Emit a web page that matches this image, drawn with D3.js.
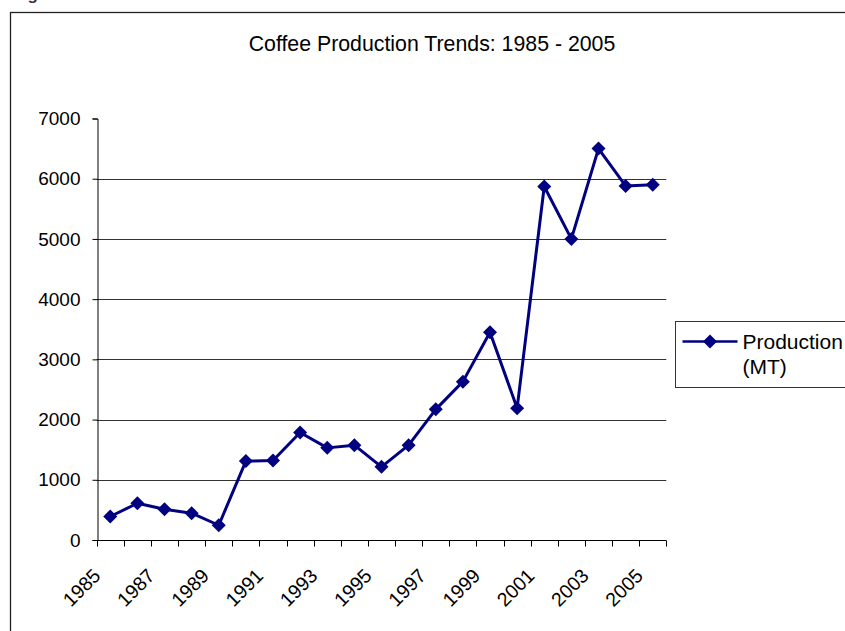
<!DOCTYPE html>
<html>
<head>
<meta charset="utf-8">
<script src="https://cdn.jsdelivr.net/npm/d3@7"></script>
<style>
  html, body { margin: 0; padding: 0; background: #fff; }
  svg { display: block; font-family: "Liberation Sans", Arial, sans-serif; }
</style>
</head>
<body>
<svg id="chart" width="845" height="631"></svg>
<script>
// Coffee production, metric tonnes, 1985 - 2005
const years = [1985, 1986, 1987, 1988, 1989, 1990, 1991, 1992, 1993, 1994, 1995,
               1996, 1997, 1998, 1999, 2000, 2001, 2002, 2003, 2004, 2005];
const production = [390, 610, 510, 445, 245, 1310, 1320, 1785, 1530, 1575, 1215,
                    1575, 2170, 2630, 3450, 2190, 5870, 5000, 6500, 5880, 5900];
const yTicks = [0, 1000, 2000, 3000, 4000, 5000, 6000, 7000];
const xTickLabels = [1985, 1987, 1989, 1991, 1993, 1995, 1997, 1999, 2001, 2003, 2005];
const seriesName = ["Production", "(MT)"];
const chartTitle = "Coffee Production Trends: 1985 - 2005";

const navy = "#000080";
const svg = d3.select("#chart");

// Plot frame
const plot = { left: 96.7, right: 666.3, top: 118.5, bottom: 540 };

const x = d3.scaleBand().domain(years).range([plot.left, plot.right]).padding(0);
const y = d3.scaleLinear().domain([0, 7000]).range([plot.bottom, plot.top]);

// Outer chart border (runs off the page on the right and bottom)
svg.append("rect")
  .attr("x", 10.5).attr("y", 12.5)
  .attr("width", 900).attr("height", 700)
  .attr("fill", "none").attr("stroke", "#222").attr("stroke-width", 1.3);

// Caption line above the chart frame; only its descender falls on the page
svg.append("text")
  .attr("x", 12.5).attr("y", -0.5)
  .attr("font-size", 17).attr("font-weight", "bold")
  .attr("fill", "#333")
  .text("Figure");

// Title
svg.append("text")
  .attr("x", 432).attr("y", 50.5)
  .attr("text-anchor", "middle")
  .attr("font-size", 21.3)
  .attr("fill", "#000")
  .text(chartTitle);

// Horizontal gridlines
svg.append("g")
  .selectAll("line")
  .data(yTicks.filter(d => d > 0 && d < 7000))
  .join("line")
  .attr("x1", plot.left).attr("x2", plot.right)
  .attr("y1", d => Math.round(y(d)) + 0.5).attr("y2", d => Math.round(y(d)) + 0.5)
  .attr("stroke", "#333").attr("stroke-width", 1);

// Y axis
const yAxis = d3.axisLeft(y).tickValues(yTicks).tickSize(5).tickPadding(12)
  .tickFormat(d3.format("d"));
const gy = svg.append("g")
  .attr("transform", `translate(${Math.round(plot.left) + 0.5},0)`)
  .call(yAxis);
gy.select(".domain").attr("stroke", "#000").attr("stroke-width", 1);
gy.selectAll(".tick line").attr("stroke", "#000");
gy.selectAll(".tick text")
  .attr("font-size", 19)
  .attr("font-family", "'Liberation Sans', Arial, sans-serif")
  .attr("fill", "#000");

// X axis: ticks on category boundaries, labels on alternate years
const gx = svg.append("g")
  .attr("transform", `translate(0,${plot.bottom + 0.5})`);
gx.append("line")
  .attr("x1", plot.left).attr("x2", plot.right)
  .attr("stroke", "#000");
const boundaries = years.map(d => x(d)).concat([x(years[years.length - 1]) + x.bandwidth()]);
gx.selectAll("line.tick")
  .data(boundaries)
  .join("line")
  .attr("class", "tick")
  .attr("x1", d => Math.round(d) + 0.5).attr("x2", d => Math.round(d) + 0.5)
  .attr("y1", 0).attr("y2", 6)
  .attr("stroke", "#000");
gx.selectAll("text")
  .data(xTickLabels)
  .join("text")
  .attr("transform", d => `translate(${x(d) + x.bandwidth() / 2 - 8.5},${36.5}) rotate(-45)`)
  .attr("text-anchor", "end")
  .attr("font-size", 19.5)
  .attr("fill", "#000")
  .text(d => d);

// Series line
const cx = d => x(d) + x.bandwidth() / 2;
const line = d3.line()
  .x((d, i) => cx(years[i]))
  .y(d => y(d));
svg.append("path")
  .datum(production)
  .attr("d", line)
  .attr("fill", "none")
  .attr("stroke", navy)
  .attr("stroke-width", 3)
  .attr("stroke-linejoin", "round");

// Diamond markers
const diamond = (px, py, r) => `M${px},${py - r}L${px + r},${py}L${px},${py + r}L${px - r},${py}Z`;
svg.append("g")
  .selectAll("path")
  .data(production)
  .join("path")
  .attr("d", (d, i) => diamond(cx(years[i]), y(d), 7))
  .attr("fill", navy);

// Legend
const lg = svg.append("g");
lg.append("rect")
  .attr("x", 675.5).attr("y", 321.5)
  .attr("width", 200).attr("height", 66)
  .attr("fill", "#fff").attr("stroke", "#333").attr("stroke-width", 1);
lg.append("line")
  .attr("x1", 682.5).attr("x2", 737.5)
  .attr("y1", 341.5).attr("y2", 341.5)
  .attr("stroke", navy).attr("stroke-width", 2.5);
lg.append("path")
  .attr("d", diamond(710, 341.5, 7))
  .attr("fill", navy);
lg.append("text")
  .attr("x", 742.5).attr("y", 348.5)
  .attr("font-size", 21)
  .attr("fill", "#000")
  .selectAll("tspan")
  .data(seriesName)
  .join("tspan")
  .attr("x", 742.5)
  .attr("dy", (d, i) => i === 0 ? 0 : 25.5)
  .text(d => d);
</script>
</body>
</html>
